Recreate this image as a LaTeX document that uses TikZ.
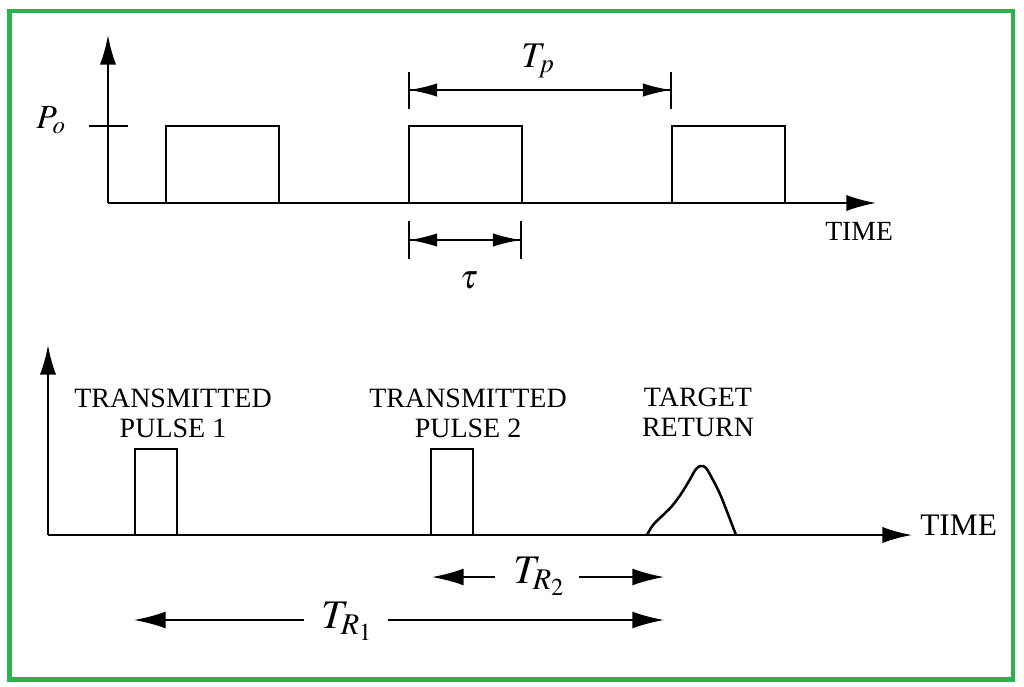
\documentclass[tikz,border=0pt]{standalone}
\usepackage{mathptmx}
\usepackage{fontspec}
\setmainfont{Liberation Serif}
\usetikzlibrary{arrows.meta}
\definecolor{framegreen}{RGB}{41,178,77}
\tikzset{
  axisline/.style={line width=1.5pt,-{Latex[length=21pt,width=11.5pt]}},
  pulsebox/.style={line width=1.8pt},
  dimline/.style={line width=1.2pt},
  dimtip/.style={-{Latex[length=20pt,width=9.5pt]}},
  bigtip/.style={-{Latex[length=22.5pt,width=12pt]}},
  tickline/.style={line width=1.3pt},
  caption/.style={inner sep=0pt,align=center,font=\fontsize{19.9}{21.3}\selectfont},
  mathlabel/.style={inner sep=0pt},
}
\begin{document}
\begin{tikzpicture}[x=0.025cm,y=-0.025cm]
\useasboundingbox (0,0) rectangle (1024,686);
% Drawing frame
\draw [framegreen,line width=3.2pt] (9.5,11) rectangle (1013,679.5);

% ---------- upper plot
\coordinate (O1) at (108,203);
\coordinate (Y1) at (108,35);
\coordinate (X1) at (876,203);
% Drawing axes
\draw [axisline] (O1) -- (Y1);
\draw [axisline] (O1) -- (X1);
% Drawing level tick
\draw [tickline] (89,126) -- (128,126);
% Marking point P_o
\node [mathlabel,anchor=base west,font=\fontsize{24}{28}\selectfont] (po) at (36,128) {$P_o$};
% Drawing pulses
\foreach \x in {166,409,672}
  \draw [pulsebox] (\x,203) rectangle +(113,-77);
% Drawing segment Tp
\coordinate (tpL) at (409,90);
\coordinate (tpR) at (671,90);
\draw [tickline] (409,72) -- (409,109);
\draw [tickline] (671,72) -- (671,109);
\draw [dimline,dimtip] (tpL) -- (tpR);
\draw [dimline,dimtip] (tpR) -- (tpL);
\node [mathlabel,anchor=base west,font=\fontsize{25.7}{30}\selectfont] (tp) at (521,67) {$T_p$};
% Drawing segment tau
\coordinate (tauL) at (409,240);
\coordinate (tauR) at (521,240);
\draw [tickline] (409,221) -- (409,259);
\draw [tickline] (521,221) -- (521,259);
\draw [dimline,dimtip] (tauL) -- (tauR);
\draw [dimline,dimtip] (tauR) -- (tauL);
\node [mathlabel,anchor=base,font=\fontsize{24}{28}\selectfont] (tau) at (469,288) {$\tau$};
% Marking point TIME
\node [inner sep=0pt,anchor=base west,font=\fontsize{19.7}{24}\selectfont] (time1) at (825,240) {TIME};

% ---------- lower plot
\coordinate (O2) at (48,535);
\coordinate (Y2) at (48,345);
\coordinate (X2) at (912,535);
% Drawing axes
\draw [axisline] (O2) -- (Y2);
\draw [axisline] (O2) -- (X2);
% Drawing transmitted pulses
\draw [pulsebox] (135,535) rectangle (177,449);
\draw [pulsebox] (431,535) rectangle (473,449);
% Drawing target return
\draw [pulsebox,line join=round] plot [smooth,tension=0.6] coordinates {
  (647,535) (653,525) (662,516) (672,506) (681,494) (689,481)
  (696,469) (701,466) (706,468) (713,480) (720,494) (726,509) (731,522) (736,535)};
% Marking captions
\node [caption,anchor=base] (tx1) at (173,437) {TRANSMITTED\\PULSE 1};
\node [caption,anchor=base] (tx2) at (468,437) {TRANSMITTED\\PULSE 2};
\node [caption,anchor=base] (ret) at (698,436) {TARGET\\RETURN};
% Marking point TIME
\node [inner sep=0pt,anchor=base west,font=\fontsize{22.3}{26}\selectfont] (time2) at (920,535) {TIME};
% Drawing segment TR2
\coordinate (trbL) at (432,577);
\coordinate (trbA) at (495,577);
\coordinate (trbB) at (579,577);
\coordinate (trbR) at (664,577);
\draw [dimline,bigtip] (trbA) -- (trbL);
\draw [dimline,bigtip] (trbB) -- (trbR);
\node [mathlabel,anchor=base west,font=\fontsize{28.9}{34}\selectfont] (trb) at (513,583) {$T_{R_2}$};
% Drawing segment TR1
\coordinate (traL) at (134,620);
\coordinate (traA) at (304,620);
\coordinate (traB) at (388,620);
\coordinate (traR) at (664,620);
\draw [dimline,bigtip] (traA) -- (traL);
\draw [dimline,bigtip] (traB) -- (traR);
\node [mathlabel,anchor=base west,font=\fontsize{28.9}{34}\selectfont] (tra) at (321,628) {$T_{R_1}$};
\end{tikzpicture}
\end{document}
